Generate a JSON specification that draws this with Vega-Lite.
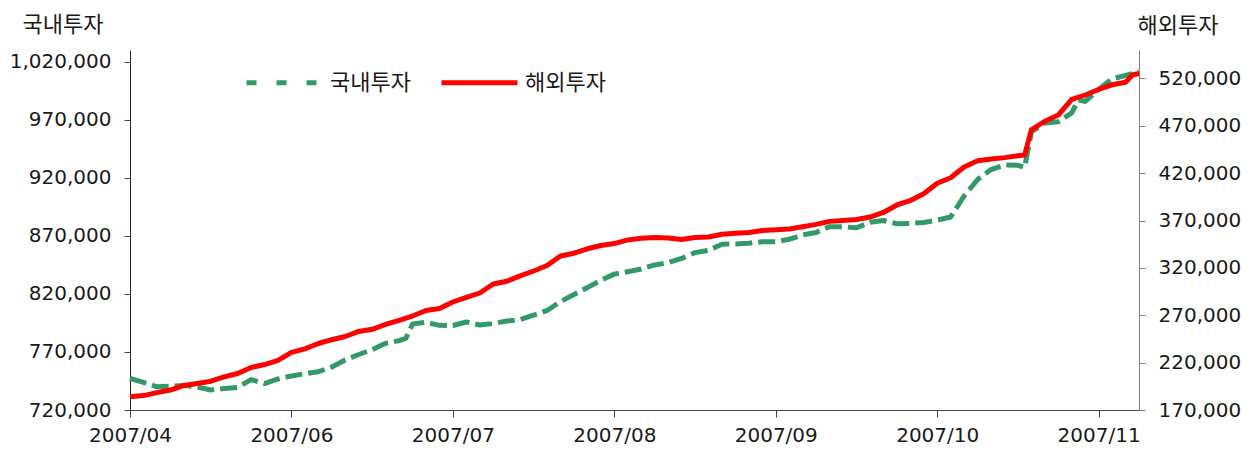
{
  "$schema": "https://vega.github.io/schema/vega-lite/v6.json",
  "autosize": {"type": "none"},
  "padding": {"left": 130, "top": 50, "right": 111, "bottom": 42},
  "width": 1009,
  "height": 360,
  "background": "white",
  "config": {
    "view": {"stroke": null},
    "axis": {"grid": false, "labelFont": "DejaVu Sans, Noto Sans CJK KR", "labelFontSize": 20, "labelColor": "#1a1a1a", "titleFont": "Noto Sans CJK KR", "titleFontSize": 22, "titleFontWeight": "normal", "titleColor": "#1a1a1a", "tickSize": 6},
    "legend": {"labelFont": "Noto Sans CJK KR", "labelFontSize": 22, "labelColor": "#1a1a1a"}
  },
  "datasets": {
    "dom": [
      {"i":0,"s":"국내투자","v":747300},{"i":2,"s":"국내투자","v":743700},{"i":4,"s":"국내투자","v":740000},{"i":6,"s":"국내투자","v":740500},{"i":8,"s":"국내투자","v":741100},{"i":10,"s":"국내투자","v":739800},{"i":12,"s":"국내투자","v":737200},{"i":14,"s":"국내투자","v":738500},{"i":16,"s":"국내투자","v":739500},{"i":18,"s":"국내투자","v":746200},{"i":20,"s":"국내투자","v":742800},{"i":22,"s":"국내투자","v":746700},{"i":24,"s":"국내투자","v":749300},{"i":26,"s":"국내투자","v":751300},{"i":28,"s":"국내투자","v":753000},{"i":30,"s":"국내투자","v":757000},{"i":32,"s":"국내투자","v":763100},{"i":34,"s":"국내투자","v":767800},{"i":36,"s":"국내투자","v":772000},{"i":38,"s":"국내투자","v":777400},{"i":40,"s":"국내투자","v":779700},{"i":41,"s":"국내투자","v":781600},{"i":42,"s":"국내투자","v":794100},{"i":44,"s":"국내투자","v":795500},{"i":46,"s":"국내투자","v":792900},{"i":48,"s":"국내투자","v":792800},{"i":50,"s":"국내투자","v":795800},{"i":52,"s":"국내투자","v":793200},{"i":54,"s":"국내투자","v":794500},{"i":56,"s":"국내투자","v":796600},{"i":58,"s":"국내투자","v":797900},{"i":60,"s":"국내투자","v":801600},{"i":62,"s":"국내투자","v":805700},{"i":64,"s":"국내투자","v":813400},{"i":66,"s":"국내투자","v":819500},{"i":68,"s":"국내투자","v":825400},{"i":70,"s":"국내투자","v":831700},{"i":72,"s":"국내투자","v":837000},{"i":74,"s":"국내투자","v":839100},{"i":76,"s":"국내투자","v":841400},{"i":78,"s":"국내투자","v":844900},{"i":80,"s":"국내투자","v":846900},{"i":82,"s":"국내투자","v":850500},{"i":84,"s":"국내투자","v":855500},{"i":86,"s":"국내투자","v":857500},{"i":88,"s":"국내투자","v":862700},{"i":90,"s":"국내투자","v":863000},{"i":92,"s":"국내투자","v":863600},{"i":94,"s":"국내투자","v":864900},{"i":96,"s":"국내투자","v":864900},{"i":98,"s":"국내투자","v":867000},{"i":100,"s":"국내투자","v":870800},{"i":102,"s":"국내투자","v":872900},{"i":104,"s":"국내투자","v":877900},{"i":106,"s":"국내투자","v":877800},{"i":108,"s":"국내투자","v":876900},{"i":110,"s":"국내투자","v":881600},{"i":112,"s":"국내투자","v":883200},{"i":114,"s":"국내투자","v":880400},{"i":116,"s":"국내투자","v":880600},{"i":118,"s":"국내투자","v":881500},{"i":120,"s":"국내투자","v":883500},{"i":122,"s":"국내투자","v":886200},{"i":124,"s":"국내투자","v":904300},{"i":126,"s":"국내투자","v":918400},{"i":128,"s":"국내투자","v":927000},{"i":130,"s":"국내투자","v":931000},{"i":132,"s":"국내투자","v":930700},{"i":133,"s":"국내투자","v":928800},{"i":134,"s":"국내투자","v":959400},{"i":136,"s":"국내투자","v":967200},{"i":138,"s":"국내투자","v":968300},{"i":140,"s":"국내투자","v":975800},{"i":141,"s":"국내투자","v":987000},{"i":142,"s":"국내투자","v":985700},{"i":144,"s":"국내투자","v":996000},{"i":146,"s":"국내투자","v":1005100},{"i":148,"s":"국내투자","v":1008100},{"i":150,"s":"국내투자","v":1011300}
    ],
    "ovs": [
      {"i":0,"s":"해외투자","v":184000},{"i":2,"s":"해외투자","v":185200},{"i":4,"s":"해외투자","v":188300},{"i":6,"s":"해외투자","v":191100},{"i":8,"s":"해외투자","v":195900},{"i":10,"s":"해외투자","v":198000},{"i":12,"s":"해외투자","v":200400},{"i":14,"s":"해외투자","v":205000},{"i":16,"s":"해외투자","v":208500},{"i":18,"s":"해외투자","v":214900},{"i":20,"s":"해외투자","v":218000},{"i":22,"s":"해외투자","v":222300},{"i":24,"s":"해외투자","v":230900},{"i":26,"s":"해외투자","v":234600},{"i":28,"s":"해외투자","v":240200},{"i":30,"s":"해외투자","v":244200},{"i":32,"s":"해외투자","v":247600},{"i":34,"s":"해외투자","v":252900},{"i":36,"s":"해외투자","v":255200},{"i":38,"s":"해외투자","v":260300},{"i":40,"s":"해외투자","v":264700},{"i":42,"s":"해외투자","v":269200},{"i":44,"s":"해외투자","v":275000},{"i":46,"s":"해외투자","v":277100},{"i":48,"s":"해외투자","v":284000},{"i":50,"s":"해외투자","v":288800},{"i":52,"s":"해외투자","v":293500},{"i":54,"s":"해외투자","v":303000},{"i":56,"s":"해외투자","v":305900},{"i":58,"s":"해외투자","v":311500},{"i":60,"s":"해외투자","v":316700},{"i":62,"s":"해외투자","v":322500},{"i":64,"s":"해외투자","v":332600},{"i":66,"s":"해외투자","v":335500},{"i":68,"s":"해외투자","v":340200},{"i":70,"s":"해외투자","v":343600},{"i":72,"s":"해외투자","v":345700},{"i":74,"s":"해외투자","v":349500},{"i":76,"s":"해외투자","v":351200},{"i":78,"s":"해외투자","v":352200},{"i":80,"s":"해외투자","v":351600},{"i":82,"s":"해외투자","v":350000},{"i":84,"s":"해외투자","v":352100},{"i":86,"s":"해외투자","v":352600},{"i":88,"s":"해외투자","v":355500},{"i":90,"s":"해외투자","v":356500},{"i":92,"s":"해외투자","v":357400},{"i":94,"s":"해외투자","v":359400},{"i":96,"s":"해외투자","v":360300},{"i":98,"s":"해외투자","v":361100},{"i":100,"s":"해외투자","v":363400},{"i":102,"s":"해외투자","v":365900},{"i":104,"s":"해외투자","v":369100},{"i":106,"s":"해외투자","v":370100},{"i":108,"s":"해외투자","v":371000},{"i":110,"s":"해외투자","v":373700},{"i":112,"s":"해외투자","v":378500},{"i":114,"s":"해외투자","v":386400},{"i":116,"s":"해외투자","v":391100},{"i":118,"s":"해외투자","v":398200},{"i":120,"s":"해외투자","v":409400},{"i":122,"s":"해외투자","v":415100},{"i":124,"s":"해외투자","v":426500},{"i":126,"s":"해외투자","v":433200},{"i":128,"s":"해외투자","v":435000},{"i":130,"s":"해외투자","v":436400},{"i":132,"s":"해외투자","v":438300},{"i":133,"s":"해외투자","v":439200},{"i":134,"s":"해외투자","v":465600},{"i":136,"s":"해외투자","v":474800},{"i":138,"s":"해외투자","v":481400},{"i":140,"s":"해외투자","v":497800},{"i":142,"s":"해외투자","v":502500},{"i":144,"s":"해외투자","v":508300},{"i":146,"s":"해외투자","v":513300},{"i":148,"s":"해외투자","v":516000},{"i":149,"s":"해외투자","v":523600},{"i":150,"s":"해외투자","v":525200}
    ]
  },
  "encoding": {
    "x": {
      "field": "i", "type": "quantitative",
      "scale": {"domain": [0, 150], "nice": false, "zero": false},
      "axis": {
        "title": null,
        "values": [0, 24, 48, 72, 96, 120, 144],
        "labelExpr": "['2007/04','2007/06','2007/07','2007/08','2007/09','2007/10','2007/11'][round(datum.value/24)]",
        "domainColor": "#444", "tickColor": "#444", "tickSize": 7, "labelPadding": 8, "labelFlush": false, "labelOverlap": false
      }
    },
    "color": {
      "field": "s", "type": "nominal",
      "scale": {"domain": ["국내투자", "해외투자"], "range": ["#339966", "#ff0000"]},
      "legend": {
        "title": null, "orient": "none", "legendX": 114, "legendY": -8, "direction": "horizontal",
        "symbolType": "stroke", "symbolSize": 5776, "symbolStrokeWidth": 5, "labelOffset": 5, "columnPadding": 20,
        "encode": {"symbols": {"update": {"strokeDash": {"signal": "datum.value === '국내투자' ? [10, 20] : [1, 0]"}}}}
      }
    }
  },
  "layer": [
    {
      "data": {"name": "dom"},
      "mark": {"type": "line", "strokeWidth": 5, "strokeJoin": "round", "strokeCap": "butt", "strokeDash": [17, 6]},
      "encoding": {
        "y": {
          "field": "v", "type": "quantitative",
          "scale": {"domain": [720000, 1030000], "nice": false, "zero": false},
          "axis": {
            "orient": "left", "values": [720000, 770000, 820000, 870000, 920000, 970000, 1020000], "format": ",.0f",
            "title": "국내투자", "titleAngle": 0, "titleAlign": "left", "titleBaseline": "middle", "titleX": -108, "titleY": -26,
            "domainColor": "#222", "tickColor": "#444", "labelPadding": 13
          }
        }
      }
    },
    {
      "data": {"name": "ovs"},
      "mark": {"type": "line", "strokeWidth": 5, "strokeJoin": "round", "strokeCap": "butt"},
      "encoding": {
        "y": {
          "field": "v", "type": "quantitative",
          "scale": {"domain": [170000, 550000], "nice": false, "zero": false},
          "axis": {
            "orient": "right", "values": [170000, 220000, 270000, 320000, 370000, 420000, 470000, 520000], "format": ",.0f",
            "title": "해외투자", "titleAngle": 0, "titleAlign": "left", "titleBaseline": "middle", "titleX": -2, "titleY": -25,
            "domainColor": "#808080", "tickColor": "#808080", "labelPadding": 13
          }
        }
      }
    }
  ],
  "resolve": {"scale": {"y": "independent"}}
}
